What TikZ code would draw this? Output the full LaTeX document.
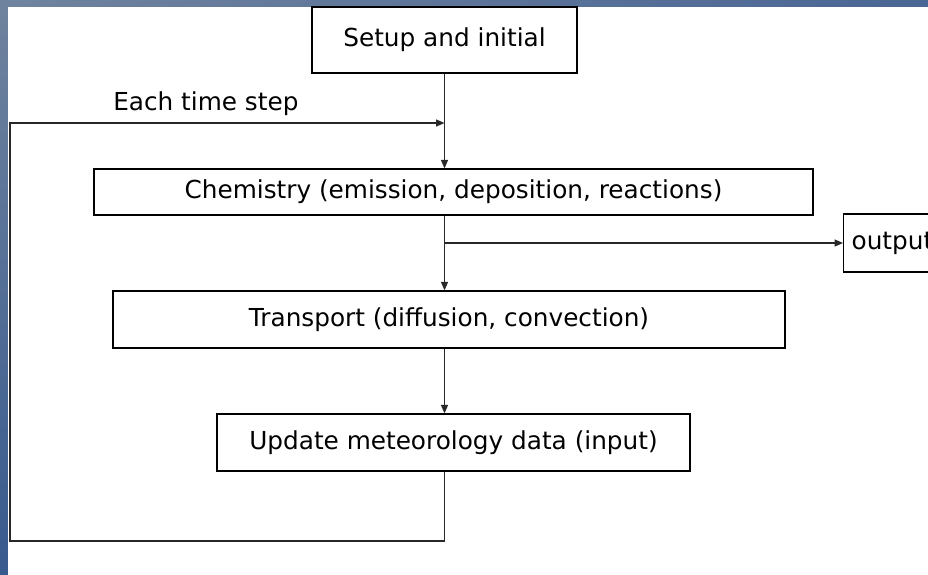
\documentclass[tikz,border=0pt]{standalone}
\usepackage{fontspec}
\setmainfont{DejaVu Sans}
\usepackage{tikz}
\usetikzlibrary{arrows.meta, positioning, calc, shadings}
\definecolor{BGa}{RGB}{112,131,158}
\definecolor{BGb}{RGB}{74,102,148}
\definecolor{BGc}{RGB}{56,90,142}
\definecolor{DG}{RGB}{40,40,40}

\begin{document}
\begin{tikzpicture}[
  box/.style={draw=black, line width=0.9pt, fill=white, inner sep=0pt,
    font=\fontsize{17.6pt}{21pt}\selectfont},
  lbl/.style={font=\fontsize{17.6pt}{21pt}\selectfont, inner sep=0pt},
  arr/.style={-{Triangle[length=6pt,width=5pt]}, DG, line width=0.8pt}
]
\useasboundingbox (0,0) rectangle (23.2,-14.375);
\clip (0,0) rectangle (23.2,-14.375);
% slide background
\shade[upper left=BGa, upper right=BGb, lower left=BGc, lower right=BGc]
  (0,0) rectangle (23.2,-14.375);
\fill[white] (0.2,-0.175) rectangle (23.2,-14.375);

\node[box, minimum width=6.625cm, minimum height=1.65cm] (setup) at (11.1125,-1.0) {Setup and initial};
\node[box, minimum width=17.975cm, minimum height=1.15cm] (chem) at (11.3375,-4.8) {Chemistry (emission, deposition, reactions)};
\node[box, minimum width=16.8cm, minimum height=1.425cm] (trans) at (11.225,-7.9875) {Transport (diffusion, convection)};
\node[box, minimum width=11.825cm, minimum height=1.425cm] (update) at (11.3375,-11.0625) {Update meteorology data (input)};
\node[box, anchor=west, inner xsep=0.2cm, minimum height=1.45cm] (output) at (21.075,-6.075) {output};
\node[lbl, anchor=base west] (steplbl) at (2.825,-2.75) {Each time step};

\coordinate (loopbl) at (0.25,-13.525);
\coordinate (loopin) at (setup.south |- 0,-3.075);
\coordinate (branch) at (setup.south |- output.west);

\draw[arr] (setup.south) -- (setup.south |- chem.north);
\draw[arr] (branch) -- (output.west);
\draw[arr] (setup.south |- chem.south) -- (setup.south |- trans.north);
\draw[arr] (setup.south |- trans.south) -- (setup.south |- update.north);
\draw[arr] (setup.south |- update.south) |- (loopbl) |- (loopin);
\end{tikzpicture}
\end{document}
